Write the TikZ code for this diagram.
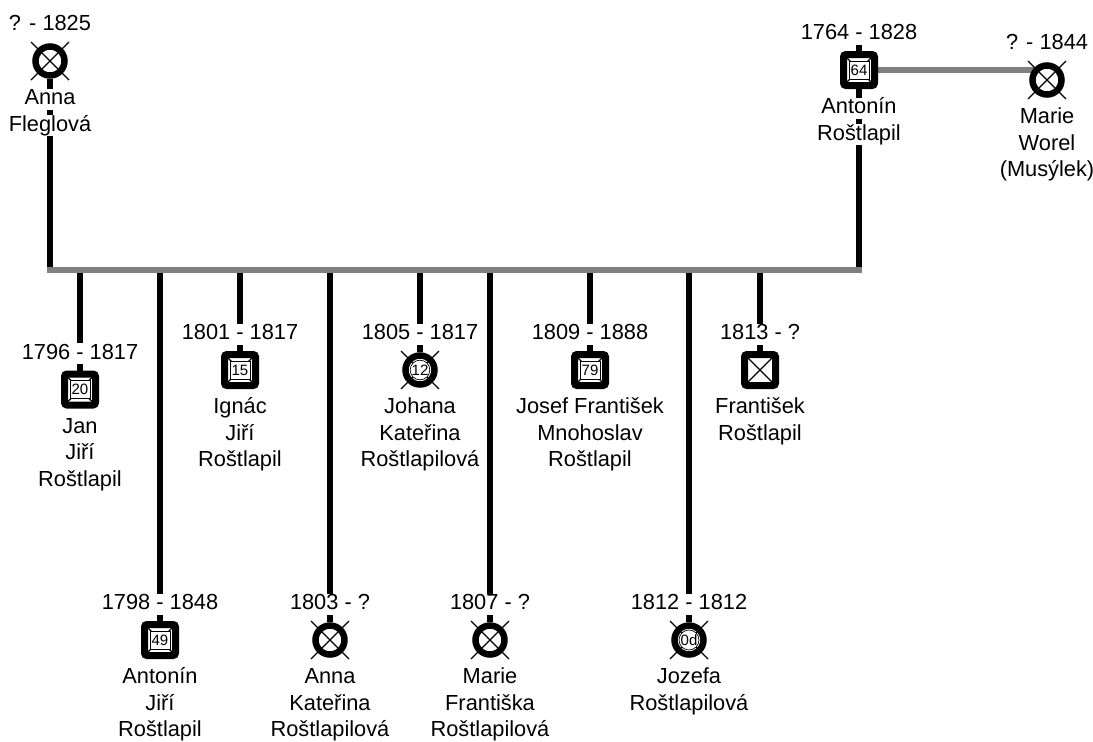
\documentclass[tikz,border=0pt]{standalone}
\usepackage{fontspec}
\setmainfont{Liberation Sans}
\pgfdeclarelayer{bg}
\pgfsetlayers{bg,main}
\definecolor{bargray}{RGB}{128,128,128}
\tikzset{
  lbl/.style={font=\fontsize{21.8}{25}\selectfont, fill=white, inner sep=0pt,
    text height=16pt, text depth=5pt, anchor=base},
  msym/.style={rectangle, draw, line width=7pt, rounded corners=2.5pt, fill=white,
    minimum size=31pt, inner sep=0pt,
    path picture={\draw[line width=1.3pt]
      (path picture bounding box.north west) -- (path picture bounding box.south east)
      (path picture bounding box.north east) -- (path picture bounding box.south west);}},
  fsym/.style={circle, draw, line width=6.5pt, fill=white, minimum size=29pt, inner sep=0pt},
  xl/.style={line width=1.3pt},
  mlab/.style={rectangle, draw, line width=0.8pt, fill=white, minimum width=20pt,
    minimum height=18pt, inner sep=1pt, font=\fontsize{15}{17}\selectfont},
  flab/.style={circle, draw, line width=0.7pt, fill=white, minimum size=19pt,
    inner sep=0pt, font=\fontsize{15}{17}\selectfont},
  blk/.style={line width=6pt, black},
  gry/.style={line width=6pt, bargray},
}
% #1 id, #2 x, #3 symbol centre y, #4 symbol style, #5 dates, #6 name lines
\newcommand\fperson[6]{%
  \node[#4] (#1) at (#2,#3) {};
  \node[lbl] (#1-d) at (#2,#3-30.5) {#5};
  \foreach \nm [count=\i] in {#6}
    \node[lbl] (#1-n\i) at (#2,{#3+43.5+26.5*(\i-1)}) {\nm};
}
\newcommand\fcross[1]{%
  \draw[xl] ([shift={(-19,-19)}]#1.center) -- ([shift={(19,19)}]#1.center)
            ([shift={(-19,19)}]#1.center) -- ([shift={(19,-19)}]#1.center);
}
\begin{document}
\begin{tikzpicture}[x=1pt, y=-1pt]
\useasboundingbox (0,0) rectangle (1093,742);

\coordinate (barL) at (50,270);
\coordinate (barR) at (859,270);

% parents
\fperson{annaF}{50}{61}{fsym}{? - 1825}{Anna, Fleglová}
\fcross{annaF}
\fperson{father}{859}{70}{msym}{1764 - 1828}{Antonín, Roštlapil}
\node[mlab] at (father) {64};
\fperson{marieW}{1047}{80}{fsym}{? - 1844}{Marie, Worel, (Musýlek)}
\fcross{marieW}

% children
\fperson{jan}{80}{389.5}{msym}{1796 - 1817}{Jan, Jiří, Roštlapil}
\node[mlab] at (jan) {20};
\fperson{antJ}{160}{640}{msym}{1798 - 1848}{Antonín, Jiří, Roštlapil}
\node[mlab] at (antJ) {49};
\fperson{ignac}{240}{370}{msym}{1801 - 1817}{Ignác, Jiří, Roštlapil}
\node[mlab] at (ignac) {15};
\fperson{annaK}{330}{640}{fsym}{1803 - ?}{Anna, Kateřina, Roštlapilová}
\fcross{annaK}
\fperson{johana}{420}{370}{fsym}{1805 - 1817}{Johana, Kateřina, Roštlapilová}
\fcross{johana}
\node[flab] at (johana) {12};
\fperson{marieF}{490}{640}{fsym}{1807 - ?}{Marie, Františka, Roštlapilová}
\fcross{marieF}
\fperson{josef}{590}{370}{msym}{1809 - 1888}{Josef František, Mnohoslav, Roštlapil}
\node[mlab] at (josef) {79};
\fperson{jozefa}{689}{640}{fsym}{1812 - 1812}{Jozefa, Roštlapilová}
\fcross{jozefa}
\node[flab] at (jozefa) {0d};
\fperson{frantisek}{760}{370}{msym}{1813 - ?}{František, Roštlapil}

\begin{pgfonlayer}{bg}
  \draw[blk] (annaF) -- (barL);
  \draw[blk] (father-d) -- (barR);
  \foreach \p in {jan,antJ,ignac,annaK,johana,marieF,josef,jozefa,frantisek}
    \draw[blk] (\p) -- (\p |- barL);
  \draw[gry, line cap=rect] (barL) -- (barR);
  \draw[gry] (father) -- (father -| marieW);
\end{pgfonlayer}
\end{tikzpicture}
\end{document}
